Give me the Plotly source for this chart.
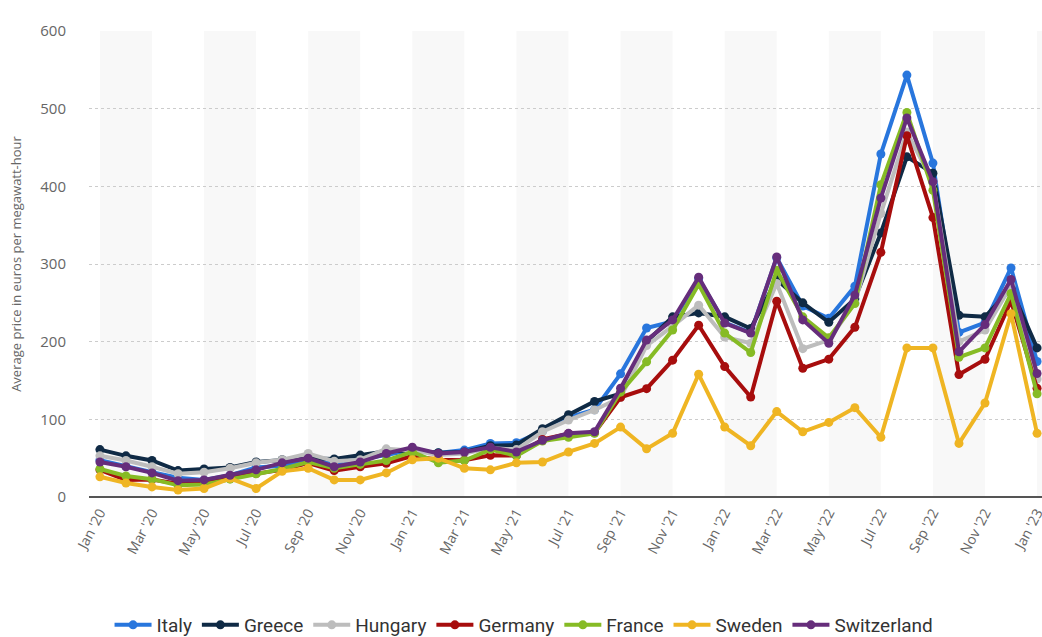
import plotly.graph_objects as go

months = ["Jan '20", "Feb '20", "Mar '20", "Apr '20", "May '20", "Jun '20", "Jul '20", "Aug '20",
          "Sep '20", "Oct '20", "Nov '20", "Dec '20",
          "Jan '21", "Feb '21", "Mar '21", "Apr '21", "May '21", "Jun '21", "Jul '21", "Aug '21",
          "Sep '21", "Oct '21", "Nov '21", "Dec '21",
          "Jan '22", "Feb '22", "Mar '22", "Apr '22", "May '22", "Jun '22", "Jul '22", "Aug '22",
          "Sep '22", "Oct '22", "Nov '22", "Dec '22", "Jan '23"]

italy = [47.5, 39.3, 32.0, 24.8, 21.8, 28.0, 38.0, 40.3, 48.8, 43.6, 48.8, 54.0,
         60.7, 56.6, 60.4, 69.0, 69.9, 84.8, 102.7, 112.4, 158.6, 217.6, 225.9, 281.2,
         224.5, 211.7, 308.1, 245.9, 230.1, 271.3, 441.6, 543.2, 429.9, 211.9, 224.5, 294.9, 174.5]
greece = [61, 53, 47, 34, 36, 38, 45, 48, 50, 49, 54, 59,
          60, 57, 58, 66, 67, 88, 106, 123, 133, 200, 232, 237,
          232, 217, 280, 250, 225, 255, 340, 438, 417, 234, 232, 268, 192]
hungary = [53, 47, 39, 30, 32, 37, 44, 48, 56, 46, 48, 62,
           60, 54, 56, 63, 61, 84, 99, 112, 128, 195, 220, 247,
           206, 198, 275, 191, 202, 250, 365, 470, 405, 200, 215, 272, 152]
germany = [35.0, 21.9, 22.5, 17.1, 17.6, 26.2, 30.1, 34.9, 43.6, 34.0, 38.8, 43.5,
           52.8, 47.9, 47.2, 53.7, 53.3, 74.1, 81.5, 82.7, 128.4, 139.5, 176.2, 221.1,
           167.9, 128.8, 252.0, 165.8, 177.5, 218.5, 315.0, 465.2, 359.8, 157.6, 177.2, 252.4, 140]
france = [36, 27, 23, 15, 16, 23, 30, 36, 45, 37, 42, 47,
          58, 44, 47, 61, 53, 72, 77, 82, 135, 174, 215, 274,
          211, 186, 292, 232, 205, 249, 402, 495, 395, 180, 192, 262, 133]
sweden = [26, 18, 13, 9, 11, 24, 11, 33, 37, 22, 22, 31,
          48, 50, 37, 35, 44, 45, 58, 69, 90, 62, 82, 158,
          90, 66, 110, 84, 96, 115, 77, 192, 192, 69, 121, 236, 82]
switzerland = [45, 39, 31, 21, 22, 28, 35, 44, 50, 39, 45, 56,
               64, 56, 58, 64, 58, 73, 82, 84, 140, 202, 228, 283,
               224, 211, 309, 228, 198, 260, 385, 488, 406, 187, 222, 280, 159]

series_names = ["Italy", "Greece", "Hungary", "Germany", "France", "Sweden", "Switzerland"]
series_values = [italy, greece, hungary, germany, france, sweden, switzerland]
series_colors = ["#2876dd", "#0f2a45", "#bdbdbd", "#a70d0d", "#86bb25", "#efb523", "#662d7b"]

y_ticks = [0, 100, 200, 300, 400, 500, 600]

x = list(range(len(months)))
tick_idx = x[::2]

fig = go.Figure()
for name, vals, col in zip(series_names, series_values, series_colors):
    fig.add_trace(go.Scatter(
        x=x, y=vals, name=name, mode="lines+markers",
        line=dict(color=col, width=4),
        marker=dict(color=col, size=9),
        cliponaxis=False,
    ))

# alternating background bands between labelled ticks
shapes = []
for k, t in enumerate(tick_idx):
    if k % 2 == 0:
        x1 = tick_idx[k + 1] if k + 1 < len(tick_idx) else t + 2
        shapes.append(dict(type="rect", xref="x", yref="paper", x0=t, x1=x1, y0=0, y1=1,
                           fillcolor="#f8f8f8", line=dict(width=0), layer="below"))

fig.update_layout(
    width=1042, height=637,
    margin=dict(l=89, r=0, t=31, b=140, autoexpand=False),
    paper_bgcolor="white", plot_bgcolor="white",
    font=dict(family="Open Sans, Lato, sans-serif", color="#666666", size=14),
    shapes=shapes,
    showlegend=True,
    legend=dict(orientation="h", x=0.4565, xanchor="center",
                y=-0.2747, yanchor="middle",
                font=dict(family="Roboto, sans-serif", size=19, color="#333333"),
                itemwidth=37, tracegroupgap=0),
    xaxis=dict(
        range=[-0.42, 36.19], automargin=False,
        tickmode="array", tickvals=tick_idx, ticktext=[months[i] for i in tick_idx],
        tickangle=-62, showgrid=False, zeroline=False,
        showline=False, ticks="", ticklabelstandoff=4, ticklabeloverflow="allow",
        tickfont=dict(size=14, color="#666666"),
    ),
    yaxis=dict(
        range=[0, 600], tickmode="array", tickvals=y_ticks, automargin=False,
        showgrid=True, gridcolor="#cccccc", griddash="dot", gridwidth=1,
        zeroline=True, zerolinecolor="#555555", zerolinewidth=2,
        ticks="", ticklabelstandoff=22, tickfont=dict(size=15, color="#666666"),
        title=dict(text="Average price in euros per megawatt-hour",
                   font=dict(size=13, color="#666666"), standoff=15),
    ),
)

fig.write_html("out.html", config={"displayModeBar": False},
               post_script="document.body.style.margin='0';document.body.style.overflow='hidden';")
